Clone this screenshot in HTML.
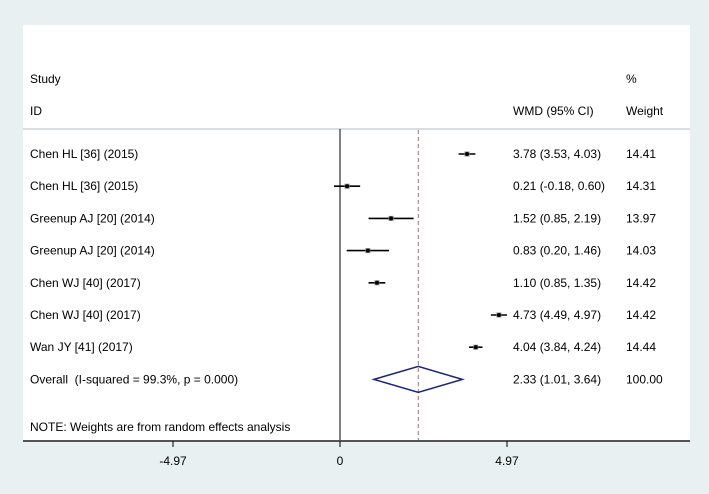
<!DOCTYPE html>
<html><head><meta charset="utf-8"><style>
body{margin:0;background:#e8f0f2;}
svg{display:block;font-family:"Liberation Sans",Arial,sans-serif;}
</style></head><body>
<svg width="709" height="494">
<rect x="0" y="0" width="709" height="494" fill="#e8f0f2"/>
<rect x="23" y="25" width="667" height="416" fill="#ffffff"/>
<line x1="23" y1="129" x2="690" y2="129" stroke="#d8dfe2" stroke-width="2"/>
<text x="30" y="83" font-size="12">Study</text>
<text x="30" y="115" font-size="12">ID</text>
<text x="513" y="115" font-size="12">WMD (95% CI)</text>
<text x="626" y="83" font-size="12">%</text>
<text x="626" y="115" font-size="12">Weight</text>
<g id="g"></g>
<script>
const studies=["Chen HL [36] (2015)","Chen HL [36] (2015)","Greenup AJ [20] (2014)","Greenup AJ [20] (2014)","Chen WJ [40] (2017)","Chen WJ [40] (2017)","Wan JY [41] (2017)"];
const est=[3.78,0.21,1.52,0.83,1.10,4.73,4.04];
const lo=[3.53,-0.18,0.85,0.20,0.85,4.49,3.84];
const hi=[4.03,0.60,2.19,1.46,1.35,4.97,4.24];
const weights=["14.41","14.31","13.97","14.03","14.42","14.42","14.44"];
const overall=[2.33,1.01,3.64];
const ticks=[-4.97,0,4.97];
const tickLabels=["-4.97","0","4.97"];
const X=v=>340+v*33.6;
const rowY=i=>154+i*32.2;
const g=document.getElementById('g');
const NS='http://www.w3.org/2000/svg';
function mk(t,a){const e=document.createElementNS(NS,t);for(const k in a)e.setAttribute(k,a[k]);g.appendChild(e);return e;}
let e;
e=mk('line',{x1:X(0),y1:129,x2:X(0),y2:441,stroke:'#000','stroke-width':1});


e=mk('line',{x1:X(overall[0]),y1:130,x2:X(overall[0]),y2:441,stroke:'#a07078','stroke-width':1,'stroke-dasharray':'4,3'});


studies.forEach((s,i)=>{
 const y=rowY(i);
 e=mk('text',{x:30,y:y+4,'font-size':12});e.textContent=s;
 
 
 e=mk('line',{x1:X(lo[i]),y1:y,x2:X(hi[i]),y2:y,stroke:'#000','stroke-width':1.6});
 
 
 e=mk('rect',{x:X(est[i])-2.5,y:y-2.5,width:5,height:5,fill:'#888'});
 
 
 e=mk('circle',{cx:X(est[i]),cy:y,r:2,fill:'#000'});
 
 
 e=mk('text',{x:513,y:y+4,'font-size':12});e.textContent=est[i].toFixed(2)+" ("+lo[i].toFixed(2)+", "+hi[i].toFixed(2)+")";
 
 
 e=mk('text',{x:626,y:y+4,'font-size':12});e.textContent=weights[i];
 
 
});
const oy=rowY(7);
e=mk('text',{x:30,y:oy+4,'font-size':12});e.textContent="Overall\u00a0 (I-squared = 99.3%, p = 0.000)";


e=mk('polygon',{points:`${X(overall[1])},${oy} ${X(overall[0])},${oy-13} ${X(overall[2])},${oy} ${X(overall[0])},${oy+13}`,fill:'none',stroke:'#1a237e','stroke-width':1.5});


e=mk('text',{x:513,y:oy+4,'font-size':12});e.textContent=overall[0].toFixed(2)+" ("+overall[1].toFixed(2)+", "+overall[2].toFixed(2)+")";


e=mk('text',{x:626,y:oy+4,'font-size':12});e.textContent="100.00";


e=mk('text',{x:30,y:431,'font-size':12});e.textContent="NOTE: Weights are from random effects analysis";


e=mk('line',{x1:23,y1:441,x2:690,y2:441,stroke:'#555','stroke-width':2});


ticks.forEach((t,i)=>{
 e=mk('line',{x1:X(t),y1:441,x2:X(t),y2:447,stroke:'#000'});
 
 
 e=mk('text',{x:X(t),y:465,'font-size':12,'text-anchor':'middle'});e.textContent=tickLabels[i];
 
 
});
</script>
</svg>
</body></html>
